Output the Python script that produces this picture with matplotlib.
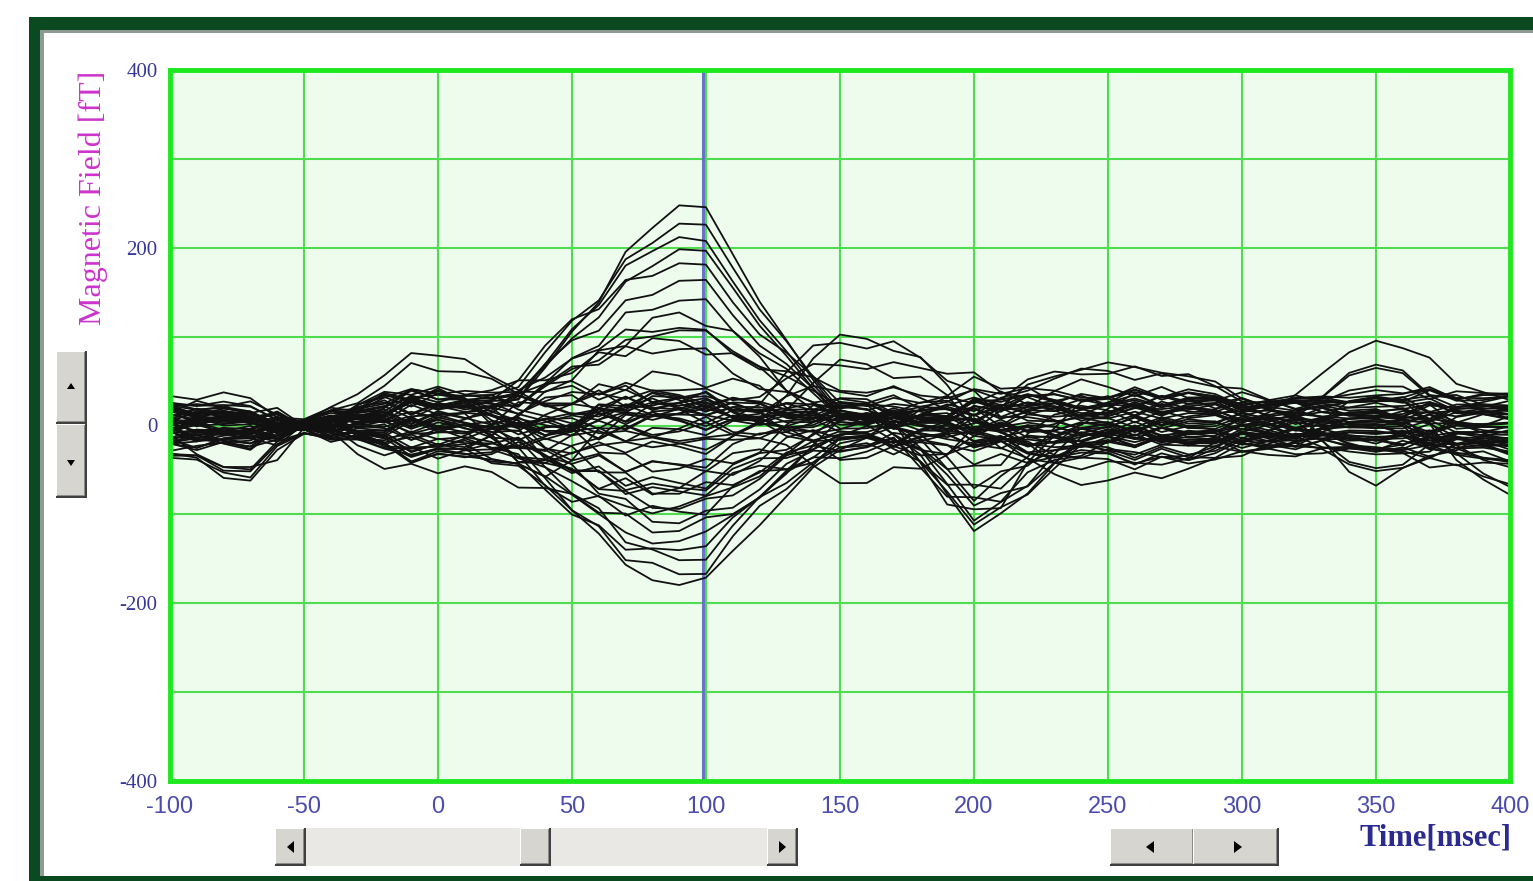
import numpy as np
import matplotlib
matplotlib.use('Agg')
import matplotlib.pyplot as plt
from matplotlib.patches import Rectangle, Polygon

# ---- data ---------------------------------------------------------------
# sample times (ms), every 10 ms
TIME_MS = list(range(-100, 401, 10))

# waveforms of the field components (normalised, one value per sample)
BASE_WAVE = [0.7, 0.8, 0.7, 0.55, 0.35, 0.08, 0.35, 0.65, 0.85, 0.95,
             1.0, 1.0, 0.95, 0.9, 0.9, 0.95, 1.0, 1.0, 1.0, 0.95,
             0.9, 0.9, 0.95, 1.0, 1.0, 1.0, 0.95, 0.9, 0.9, 0.95,
             1.0, 1.0, 1.0, 1.0, 0.95, 0.9, 0.9, 0.95, 1.0, 1.0,
             0.95, 0.9, 0.8, 0.8, 0.9, 1.0, 1.0, 1.0, 1.0, 1.05,
             1.1]
JIT_A_WAVE = [0.3, -0.2, 0.5, 0.1, -0.4, 0.2, 0.6, -0.1, -0.5, 0.3,
              0.0, 0.4, -0.3, -0.6, 0.2, 0.5, -0.1, 0.3, -0.4, 0.1,
              0.6, -0.2, -0.5, 0.2, 0.4, -0.3, 0.1, 0.5, -0.2, -0.4,
              0.3, 0.0, 0.6, -0.1, -0.5, 0.2, 0.4, -0.3, 0.1, 0.5,
              -0.4, -0.1, 0.3, 0.6, -0.2, -0.5, 0.1, 0.4, -0.3, 0.2,
              -0.1]
JIT_B_WAVE = [-0.4, 0.1, 0.3, -0.2, 0.5, -0.1, -0.1, 0.4, 0.2, -0.5,
              0.3, 0.1, -0.4, 0.5, 0.0, -0.2, 0.4, -0.5, 0.2, 0.3,
              -0.1, 0.5, 0.1, -0.4, -0.2, 0.3, 0.6, -0.3, 0.1, 0.2,
              -0.5, 0.4, 0.0, -0.2, 0.3, 0.5, -0.4, 0.1, -0.3, 0.2,
              0.4, -0.1, -0.5, 0.3, 0.1, -0.2, 0.5, -0.4, 0.0, 0.3,
              -0.2]
PRE_WAVE = [0.35, 0.6, 0.9, 1.0, 0.6, 0.1, 0.0] + [0] * 44
ZERO_WAVE = [0] * 6 + [0.1, 0.4, 0.75, 0.95, 1.0, 0.85, 0.55, 0.3, 0.12, 0.03] + [0] * 35
EARLY_WAVE = [0] * 11 + [0.05, 0.35, 0.8, 1.0, 0.7, 0.3, 0.08] + [0] * 33
BROAD_WAVE = [0] * 12 + [0.1, 0.3, 0.55, 0.8, 0.95, 1.0, 0.95, 0.85, 0.7, 0.5,
                         0.3, 0.15, 0.05] + [0] * 26
M100_WAVE = [0] * 12 + [0.02, 0.05, 0.12, 0.24, 0.42, 0.63, 0.84, 0.98, 0.97, 0.82,
                        0.6, 0.38, 0.2, 0.08, 0.02] + [0] * 24
P150_WAVE = [0] * 21 + [0.05, 0.2, 0.5, 0.85, 1.0, 0.95, 0.9, 0.8, 0.55, 0.3,
                        0.12, 0.03] + [0] * 18
M200_WAVE = [0] * 27 + [0.08, 0.35, 0.75, 1.0, 0.9, 0.62, 0.33, 0.13, 0.03] + [0] * 15
SLOW_WAVE = [0] * 29 + [0.05, 0.15, 0.4, 0.7, 0.9, 1.0, 1.0, 0.95, 0.9, 0.8,
                        0.6, 0.4, 0.25, 0.15, 0.08, 0.03] + [0] * 6
P350_WAVE = [0] * 41 + [0.05, 0.2, 0.5, 0.85, 1.0, 0.88, 0.65, 0.45, 0.3, 0.2]
DRIFT_WAVE = [0] * 46 + [0.1, 0.3, 0.55, 0.8, 1.0]

# weight of each component in each of the 60 channels (fT)
OFFSET_W = [12, -8, 25, -30, 5, 18, -15, 30, -22, 0,
            8, -5, 15, -12, 22, -28, 3, 10, -18, 27,
            -3, 14, -25, 6, 20, -10, 33, -16, 9, -35,
            1, 17, -7, 24, -20, 11, -2, 28, -13, 4,
            19, -26, 7, -9, 13, -32, 21, -4, 16, -19,
            2, 26, -11, 8, -23, 31, -6, 12, -14, 23]
JIT_A_W = [8, -12, 10, 6, -9, 14, -7, 11, -13, 5,
           9, -6, 12, -10, 7, -14, 6, 13, -8, 10,
           -11, 5, 12, -9, 7, -6, 14, -12, 8, -5,
           11, -7, 9, 13, -10, 6, -14, 8, -9, 12,
           -5, 10, -13, 7, -8, 11, -6, 14, -12, 9,
           -7, 5, 13, -11, 6, -10, 12, -8, 9, -14]
JIT_B_W = [-10, 7, -5, 12, 9, -13, 6, -8, 11, -14,
           5, 10, -7, 13, -9, 8, -12, 6, 14, -5,
           9, -11, 7, 10, -13, 12, -6, 8, -10, 11,
           -9, 14, -5, -7, 12, -8, 6, -13, 10, 7,
           -11, 9, 5, -12, 13, -6, 8, -10, 11, -9,
           14, -7, -5, 12, -8, 10, -13, 6, -11, 9]
PRE_W = [5, -55, 0, 10, -10, 0, 20, -5, 10, -50,
         0, -15, 5, 0, -10, 15, 0, -20, -45, 5,
         10, 0, -10, 5, 0, -15, 10, -40, 0, 5,
         -10, 0, 15, -5, -35, 0, 10, -15, 5, 0,
         15, -5, 0, -10, -30, 5, 0, 10, -20, 0,
         -25, 5, 0, -10, 10, 0, -15, 5, 0, -5]
ZERO_W = [10, -15, 55, 0, -40, 5, 20, -10, 15, 0,
          25, -5, 10, 50, -20, 5, 30, 0, -15, 10,
          -25, -35, 15, 0, 45, 10, -5, 20, -10, 5,
          -20, 15, 30, 0, -15, 10, 40, 5, -5, -30,
          20, 0, -10, 25, 5, -20, 15, 0, -5, 20,
          10, -15, 35, 0, 10, -10, 5, 30, -20, 0]
EARLY_W = [0, 10, -10, 0, -60, 15, 0, 10, -20, 5,
           -50, 30, 0, -15, 0, 10, -10, -45, 5, 0,
           20, -5, 0, -20, 10, 0, 15, -10, -40, 0,
           25, -15, 0, 10, -5, 0, 15, -10, 0, -20,
           5, 0, -25, 10, 0, -15, -35, 5, 0, 10,
           -10, 0, 20, -30, 0, 5, -10, 0, 15, -5]
BROAD_W = [50, 0, 50, -50, 10, -10, 15, 45, -40, -15,
           20, -5, 45, -20, 60, -55, 10, -10, -25, 40,
           -15, 15, -45, 5, 25, -45, 55, 0, -20, -60,
           20, -40, 10, 40, -10, 25, 15, 35, -30, 5,
           -20, -50, 20, -5, 30, -35, 10, -15, 30, -30,
           0, 25, -10, 15, -25, 30, -50, 20, -20, 10]
M100_W = [200, 15, 45, -115, -10, 20, -20, 165, -45, 10,
          -15, 25, 35, -40, 145, -97, 5, -25, -40, 142,
          10, -5, -33, 20, -15, -109, 107, -10, 30, -60,
          15, -30, 25, 109, -20, 10, -5, 89, -35, 20,
          -15, -68, 5, 30, 88, -59, -10, 15, -25, -66,
          20, 64, -30, 10, -50, 39, -20, 5, -45, 25]
P150_W = [-10, 5, 15, 10, 0, -15, 115, -20, 5, -60,
          0, 10, -5, 20, -15, 15, 95, 0, -10, -25,
          10, -5, 25, 0, -20, 20, -10, 85, 5, 15,
          -35, 0, 10, -15, 5, 60, -10, -20, 0, 15,
          -5, 20, 10, 50, -10, 5, 0, -15, 10, 0,
          -20, -5, 40, 5, 15, -10, 0, 10, -5, -15]
M200_W = [10, -75, 5, 0, 15, -120, -10, 0, 20, 5,
          -15, -110, 0, 10, -5, 15, 0, -20, 10, 5,
          -100, 0, 10, -10, -70, 5, 20, -5, 0, 15,
          -10, -95, 5, 0, -15, 25, 0, -10, -90, 5,
          10, 0, -20, 5, 15, 0, -10, -80, 0, 20,
          -5, 10, 0, -70, 5, -15, 10, 0, -60, 15]
SLOW_W = [5, -10, 0, 15, -5, 10, 0, -15, 5, 20,
          60, 0, -10, 5, 15, -5, 0, 10, -20, 0,
          5, 50, -10, 0, 15, 5, -15, 0, 10, -5,
          0, 15, -55, 5, -10, 0, 45, 10, -5, -50,
          0, 10, -15, 5, 0, 20, 40, -10, 5, 0,
          -45, 10, 0, -5, 15, 0, -10, -40, 5, 0]
P350_W = [-5, 10, 0, 15, -10, 5, 0, -15, 10, 0,
          5, -10, 85, 0, 10, -5, 15, -70, 0, 5,
          -10, 0, 15, 60, -5, 10, 0, -15, -55, 5,
          0, 10, -5, 15, 50, 0, -10, 5, 20, 0,
          -40, 5, -45, 10, 0, -15, 5, 10, 45, -5,
          0, 15, -10, 5, 0, 10, 35, -5, 0, -20]
DRIFT_W = [-10, 5, -15, 0, -5, -100, 10, -10, 0, -20,
           5, -10, -5, 0, -15, 10, -55, -5, 0, -10,
           25, -15, 0, -10, 5, -20, 0, -45, -5, 10,
           -10, 0, -15, 5, -5, 20, -10, 0, -20, 5,
           -5, -10, 0, -35, 10, -5, -15, 0, -10, 5,
           -20, 0, -5, 10, -15, 0, -10, 5, -25, -90]

XTICKS = [-100, -50, 0, 50, 100, 150, 200, 250, 300, 350, 400]
YTICKS = [-400, -300, -200, -100, 0, 100, 200, 300, 400]
YTICK_LABELS = ['-400', '', '-200', '', '0', '', '200', '', '400']
CURSOR_MS = 99

waves = np.array([BASE_WAVE, JIT_A_WAVE, JIT_B_WAVE, PRE_WAVE, ZERO_WAVE,
                  EARLY_WAVE, BROAD_WAVE, M100_WAVE, P150_WAVE, M200_WAVE,
                  SLOW_WAVE, P350_WAVE, DRIFT_WAVE], dtype=float)
weights = np.array([OFFSET_W, JIT_A_W, JIT_B_W, PRE_W, ZERO_W, EARLY_W,
                    BROAD_W, M100_W, P150_W, M200_W, SLOW_W, P350_W,
                    DRIFT_W], dtype=float)
channels = weights.T @ waves

# ---- figure ---------------------------------------------------------------
W, H = 1533, 881
fig = plt.figure(figsize=(W / 100, H / 100), dpi=100)
fig.patch.set_facecolor('white')


def fx(x):
    return x / W


def fy(y):
    return 1 - y / H


def box(x0, y0, x1, y1, color):
    fig.add_artist(Rectangle((fx(x0), fy(y1)), fx(x1) - fx(x0), fy(y0) - fy(y1),
                             transform=fig.transFigure, facecolor=color,
                             edgecolor='none', zorder=-2))


def tri(points):
    fig.add_artist(Polygon([(fx(x), fy(y)) for x, y in points], closed=True,
                           transform=fig.transFigure, facecolor='black',
                           edgecolor='none', zorder=-1))


def button(x0, y0, x1, y1):
    box(x0, y0, x1, y1, '#404040')
    box(x0, y0, x1 - 2, y1 - 2, '#ffffff')
    box(x0 + 1, y0 + 1, x1 - 2, y1 - 2, '#8a8a8a')
    box(x0 + 1, y0 + 1, x1 - 3, y1 - 3, '#d7d5d0')


# dark green window frame
box(29, 17, W + 5, H + 5, '#0b4a20')
box(40, 30, W + 5, 876, '#8f9a92')
box(44, 33, W + 5, 876, 'white')

# vertical spin buttons
button(56, 351, 87, 424)
button(56, 424, 87, 498)
tri([(67, 389), (75, 389), (71, 383)])
tri([(67, 460), (75, 460), (71, 466)])

# horizontal scroll bar
box(275, 828, 797, 866, '#e9e8e4')
button(275, 828, 306, 866)
button(520, 828, 551, 866)
button(767, 828, 798, 866)
tri([(294, 841), (294, 853), (287, 847)])
tri([(779, 841), (779, 853), (786, 847)])

# step buttons
button(1110, 828, 1195, 866)
button(1193, 828, 1279, 866)
tri([(1154, 841), (1154, 853), (1146, 847)])
tri([(1234, 841), (1234, 853), (1242, 847)])

# ---- plot area -------------------------------------------------------------
ax = fig.add_axes([fx(170), fy(781), fx(1510) - fx(170), fy(70) - fy(781)])
ax.set_zorder(3)
ax.set_facecolor('#eefcee')
ax.set_xlim(-100, 400)
ax.set_ylim(-400, 400)
ax.set_xticks(XTICKS)
ax.set_yticks(YTICKS)
ax.set_xticklabels([str(t) for t in XTICKS], fontfamily='Liberation Sans',
                   fontsize=17, color='#4c4cae')
ax.set_yticklabels(YTICK_LABELS, fontfamily='Liberation Serif', fontsize=15,
                   color='#38389a')
ax.tick_params(length=0)
ax.tick_params(axis='x', pad=11)
ax.tick_params(axis='y', pad=9)
ax.grid(True, color='#4fdc4f', linewidth=1.5)
ax.set_axisbelow(True)
for s in ax.spines.values():
    s.set_color('#1ee81e')
    s.set_linewidth(3.5)
    s.set_zorder(5)

ax.axvline(CURSOR_MS, color='#6a72c8', linewidth=2.2, zorder=1.5)
for row in channels:
    ax.plot(TIME_MS, row, color='#111111', linewidth=1.3, zorder=2)

fig.text(fx(93), fy(198), 'Magnetic Field [fT]', rotation=90,
         ha='center', va='center', fontfamily='Liberation Serif',
         fontsize=23, color='#cc33cc')
fig.text(fx(1436), fy(838), 'Time[msec]', ha='center', va='center',
         fontfamily='Liberation Serif', fontweight='bold', fontsize=22,
         color='#2a2a90')

fig.savefig('out.png', dpi=100)
